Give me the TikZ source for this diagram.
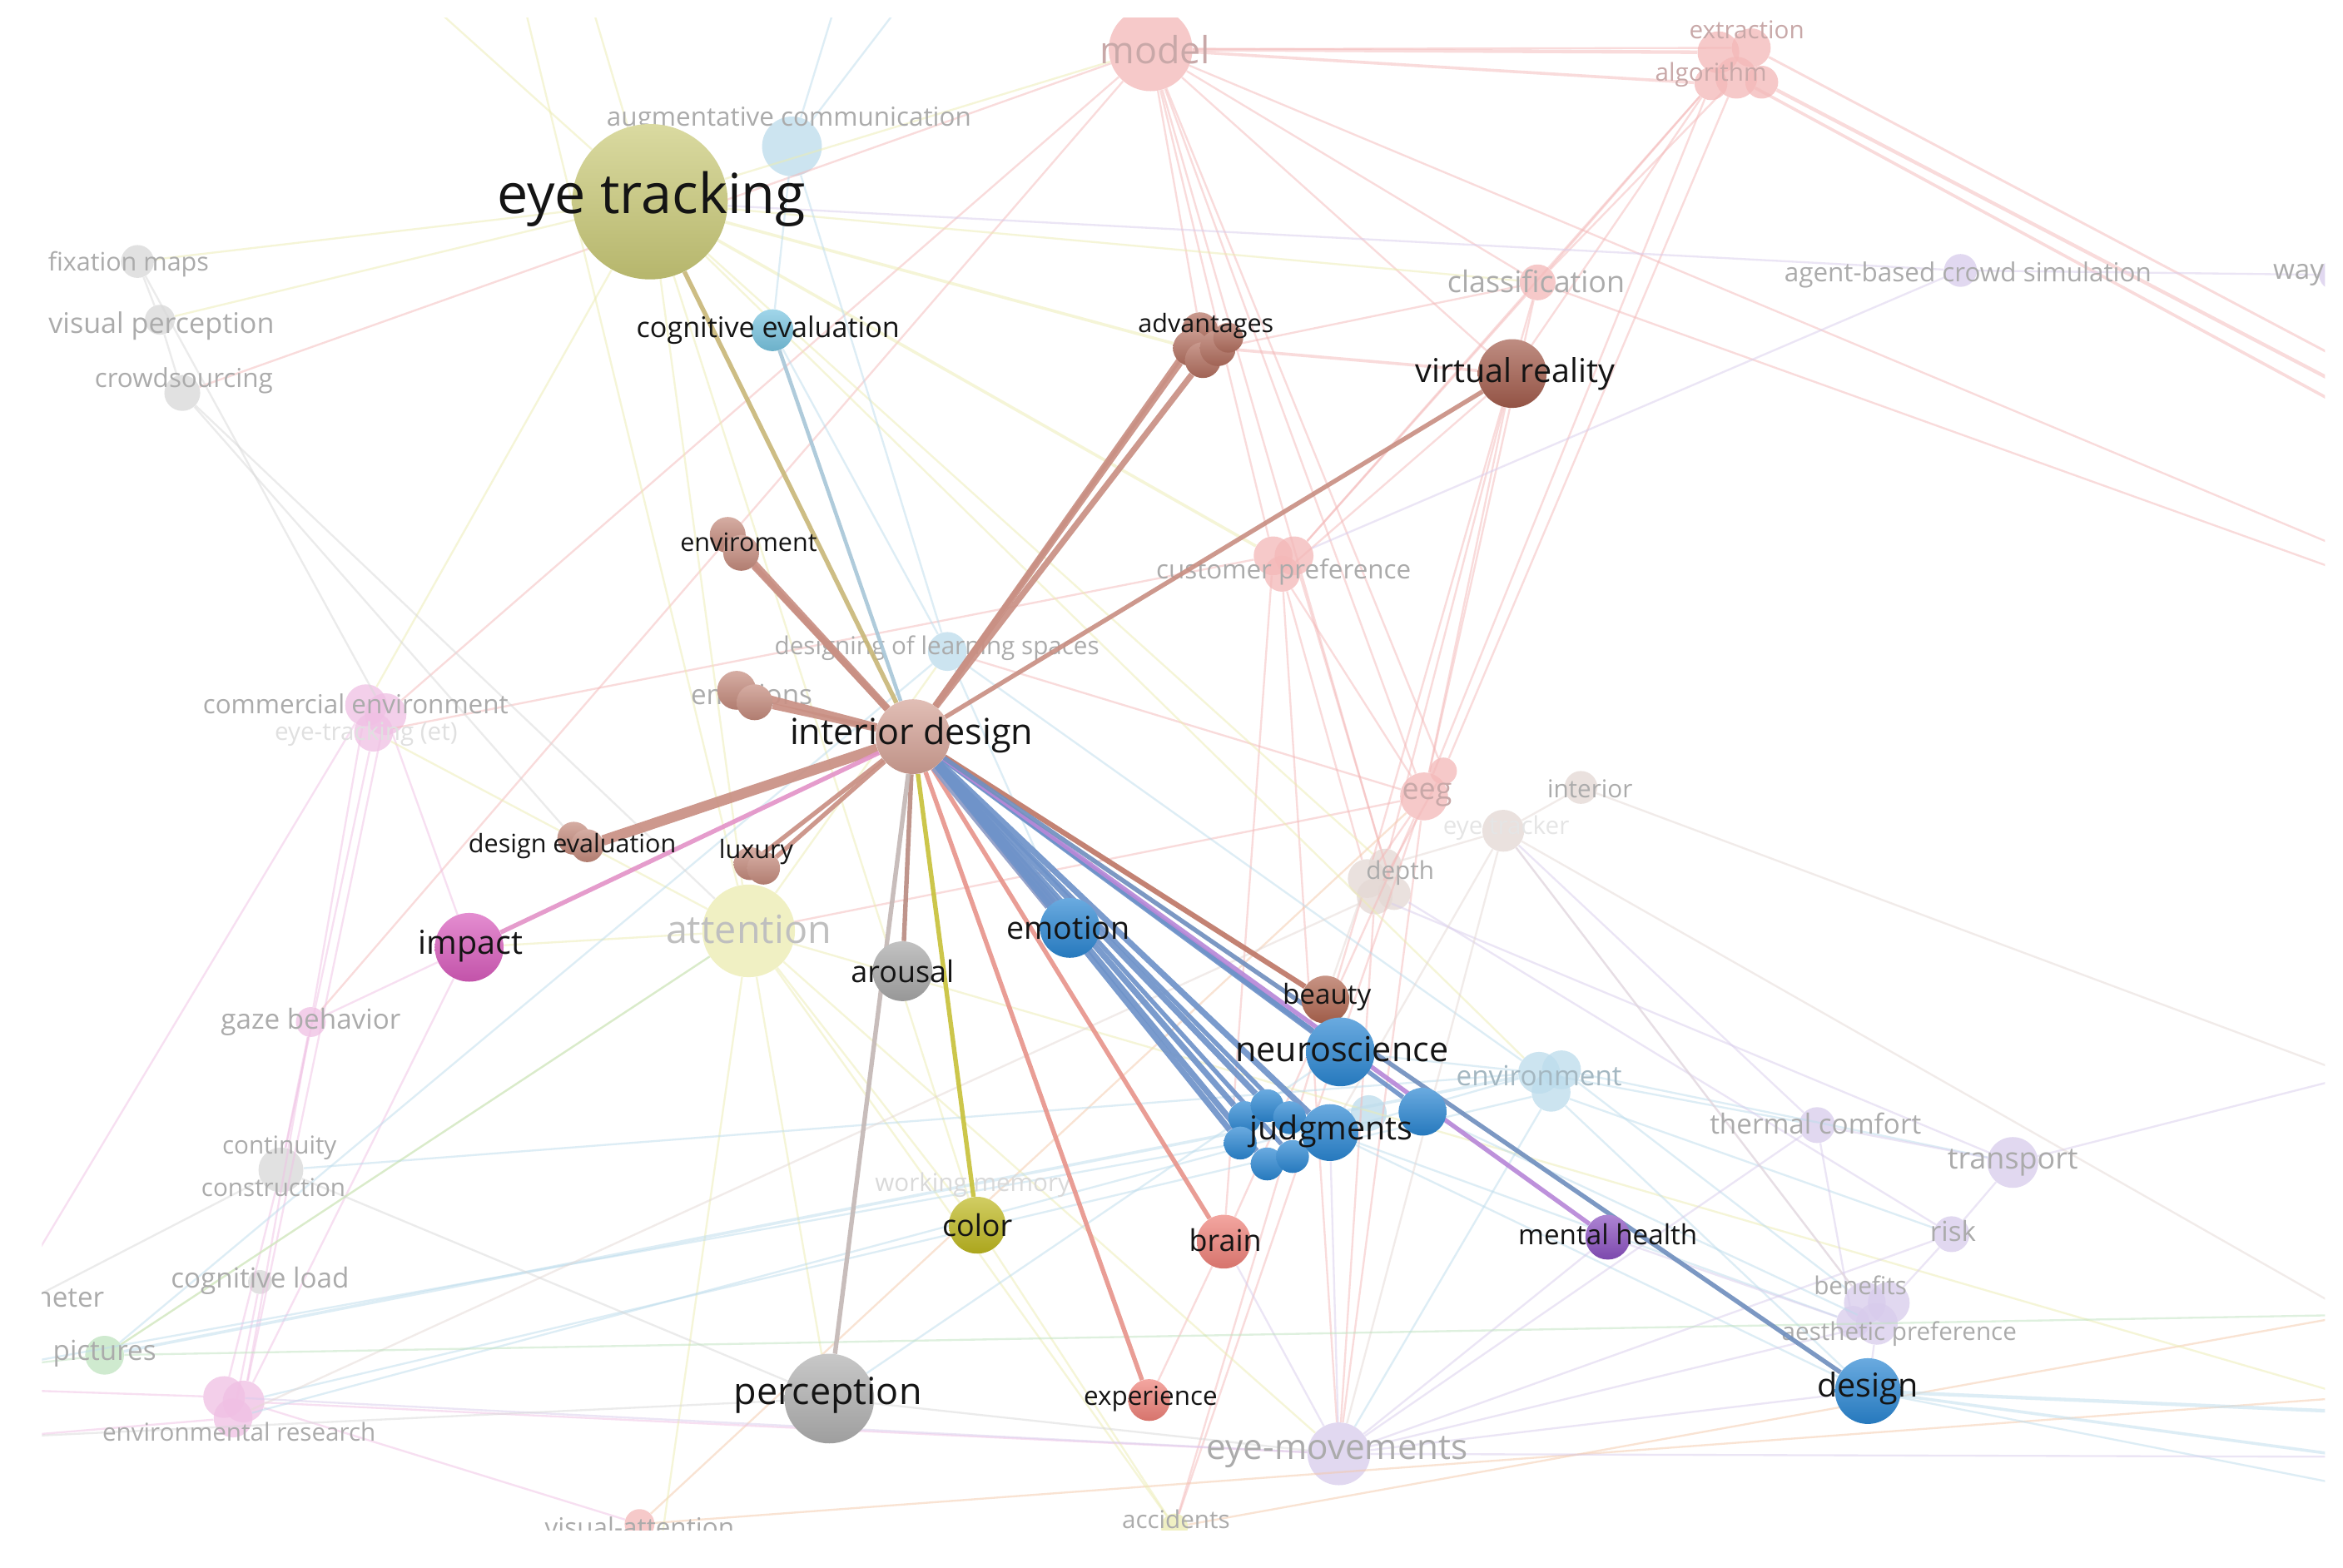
\documentclass[tikz,border=0pt]{standalone}
\usepackage{fontspec}
\setmainfont{Open Sans}
\newcommand\fsz[1]{\fontsize{#1}{#1}\selectfont}
\pgfdeclarelayer{bg}
\pgfdeclarelayer{sedge}
\pgfsetlayers{bg,sedge,main}
% strong node colours
\definecolor{cEye}{HTML}{CACA78}
\definecolor{cInt}{HTML}{D4A296}
\definecolor{cAdv}{HTML}{B26E5E}
\definecolor{cBrn}{HTML}{C48A7C}
\definecolor{cVR}{HTML}{A35C4C}
\definecolor{cBeau}{HTML}{B06650}
\definecolor{cBlue}{HTML}{2A86D2}
\definecolor{cMag}{HTML}{D85CBC}
\definecolor{cGry}{HTML}{A8A8A8}
\definecolor{cCol}{HTML}{BEB820}
\definecolor{cBrain}{HTML}{EE8078}
\definecolor{cPur}{HTML}{8A50C0}
\definecolor{cPerc}{HTML}{B0B0B0}
\definecolor{cCog}{HTML}{78C4E0}
% strong edge colours
\definecolor{eBrn}{HTML}{C99084}
\definecolor{eBrnD}{HTML}{BE7868}
\definecolor{eBlue}{HTML}{6F93C9}
\definecolor{eBand}{HTML}{8E9CC6}
\definecolor{eOl}{HTML}{C9B87A}
\definecolor{eLB}{HTML}{A9C7D8}
\definecolor{ePink}{HTML}{E394C8}
\definecolor{eGry}{HTML}{C4B8B6}
\definecolor{eYel}{HTML}{C8C23C}
\definecolor{eSal}{HTML}{E8958C}
\definecolor{ePur}{HTML}{B888D8}
% faint colours
\definecolor{fPink}{HTML}{F4B8B8}
\definecolor{fYel}{HTML}{ECECB0}
\definecolor{fBlue}{HTML}{BCDCEC}
\definecolor{fLav}{HTML}{D8CCEC}
\definecolor{fGray}{HTML}{D8D8D8}
\definecolor{fGreen}{HTML}{BFE3BF}
\definecolor{fMag}{HTML}{F0C0E4}
\definecolor{fOr}{HTML}{F4C8A8}
\definecolor{fDep}{HTML}{E4D8D4}
\definecolor{tFaint}{HTML}{ABABAB}
\definecolor{tPink}{HTML}{C8A8A8}
\tikzset{
  ball/.style={circle,inner sep=0pt,draw=none,top color=#1!70!white,bottom color=#1!90!black},
  fnode/.style={circle,inner sep=0pt,draw=none,fill=#1,fill opacity=0.75},
  se/.style={draw=#1,line width=3pt,draw opacity=0.92},
  fe/.style={draw=#1,line width=1.3pt,draw opacity=0.5},
  lbl/.style={inner sep=0pt,text=black!92},
  flbl/.style={inner sep=0pt,text=tFaint},
}
\begin{document}
\begin{tikzpicture}[x=1pt,y=-1pt]
\useasboundingbox (0,0) rectangle (1568,1049);
% ---------- strong nodes ----------
\node[ball=cEye,minimum size=104pt] (eyet) at (435,135) {};
\node[ball=cInt,minimum size=50pt] (intd) at (611,493) {};
\node[ball=cCog,minimum size=28pt] (cogev) at (517,221) {};
\node[ball=cAdv,minimum size=24pt] (adv1) at (803,221) {};
\node[ball=cAdv,minimum size=24pt] (adv2) at (797,233) {};
\node[ball=cAdv,minimum size=24pt] (adv3) at (805,241) {};
\node[ball=cAdv,minimum size=24pt] (adv4) at (815,233) {};
\node[ball=cAdv,minimum size=20pt] (adv5) at (822,226) {};
\node[ball=cVR,minimum size=46pt] (vr) at (1012,250) {};
\node[ball=cBrn,minimum size=24pt] (env1) at (487,358) {};
\node[ball=cBrn,minimum size=24pt] (env2) at (496,370) {};
\node[ball=cBrn,minimum size=26pt] (emo1) at (493,462) {};
\node[ball=cBrn,minimum size=24pt] (emo2) at (505,470) {};
\node[ball=cBrn,minimum size=22pt] (desev1) at (384,561) {};
\node[ball=cBrn,minimum size=22pt] (desev2) at (393,566) {};
\node[ball=cBrn,minimum size=22pt] (lux1) at (502,578) {};
\node[ball=cBrn,minimum size=22pt] (lux2) at (511,581) {};
\node[ball=cMag,minimum size=46pt] (impact) at (314,634) {};
\node[ball=cGry,minimum size=40pt] (arousal) at (604,650) {};
\node[ball=cBlue,minimum size=40pt] (emotion) at (716,621) {};
\node[ball=cBeau,minimum size=32pt] (beauty) at (887,669) {};
\node[ball=cBlue,minimum size=46pt] (neuro) at (897,704) {};
\node[ball=cBlue,minimum size=22pt] (j1) at (833,748) {};
\node[ball=cBlue,minimum size=22pt] (j2) at (848,740) {};
\node[ball=cBlue,minimum size=22pt] (j3) at (863,748) {};
\node[ball=cBlue,minimum size=22pt] (j4) at (830,765) {};
\node[ball=cBlue,minimum size=22pt] (j5) at (848,779) {};
\node[ball=cBlue,minimum size=22pt] (j6) at (865,774) {};
\node[ball=cBlue,minimum size=38pt] (judg) at (890,758) {};
\node[ball=cBlue,minimum size=32pt] (j7) at (952,744) {};
\node[ball=cCol,minimum size=38pt] (color) at (654,820) {};
\node[ball=cBrain,minimum size=36pt] (brain) at (819,831) {};
\node[ball=cPur,minimum size=30pt] (mental) at (1076,828) {};
\node[ball=cPerc,minimum size=60pt] (perc) at (555,936) {};
\node[ball=cBrain,minimum size=28pt] (exper) at (769,937) {};
\node[ball=cBlue,minimum size=44pt] (design) at (1250,931) {};
% ---------- strong labels ----------
\node[lbl,font=\fsz{37}] (Leyet) at (436,133) {eye tracking};
\node[lbl,font=\fsz{19}] (Lcogev) at (514,221) {cognitive evaluation};
\node[lbl,font=\fsz{17}] (Ladv) at (807,218) {advantages};
\node[lbl,font=\fsz{22}] (Lvr) at (1014,250) {virtual reality};
\node[lbl,font=\fsz{17}] (Lenvir) at (501,363) {enviroment};
\node[lbl,font=\fsz{24}] (Lintd) at (610,492) {interior design};
\node[lbl,font=\fsz{17}] (Ldesev) at (383,566) {design evaluation};
\node[lbl,font=\fsz{17}] (Llux) at (506,570) {luxury};
\node[lbl,font=\fsz{22}] (Limpact) at (315,633) {impact};
\node[lbl,font=\fsz{20}] (Larousal) at (604,650) {arousal};
\node[lbl,font=\fsz{21}] (Lemotion) at (715,621) {emotion};
\node[lbl,font=\fsz{18.5}] (Lbeauty) at (888,667) {beauty};
\node[lbl,font=\fsz{23}] (Lneuro) at (898,702) {neuroscience};
\node[lbl,font=\fsz{22}] (Ljudg) at (891,757) {judgments};
\node[lbl,font=\fsz{20}] (Lcolor) at (654,820) {color};
\node[lbl,font=\fsz{20}] (Lbrain) at (820,830) {brain};
\node[lbl,font=\fsz{18.5}] (Lmental) at (1076,826) {mental health};
\node[lbl,font=\fsz{25}] (Lperc) at (554,934) {perception};
\node[lbl,font=\fsz{17.5}] (Lexper) at (770,936) {experience};
\node[lbl,font=\fsz{22}] (Ldesign) at (1250,929) {design};
% ---------- strong edges ----------
\begin{pgfonlayer}{sedge}
\draw[se=eOl] (intd) -- (eyet);
\draw[se=eLB,line width=2.5pt] (intd) -- (cogev);
\draw[se=eBrn,line width=4pt] (intd) -- (adv2);
\draw[se=eBrn,line width=4pt] (intd) -- (adv3);
\draw[se=eBrn,line width=3.5pt] (intd) -- (adv1);
\draw[se=eBrn] (intd) -- (vr);
\draw[se=eBrn,line width=5pt] (intd) -- (env1);
\draw[se=eBrn,line width=4pt] (intd) -- (env2);
\draw[se=eBrn,line width=5pt] (intd) -- (emo1);
\draw[se=eBrn,line width=4pt] (intd) -- (emo2);
\draw[se=eBrn,line width=7pt] (intd) -- (desev2);
\draw[se=ePink] (intd) -- (impact);
\draw[se=eBrn] (intd) -- (lux1);
\draw[se=eBrn] (intd) -- (lux2);
\draw[se=eBrn!80!gray] (intd) -- (arousal);
\draw[se=eGry] (intd) -- (perc);
\draw[se=eYel] (intd) -- (color);
\draw[se=eSal] (intd) -- (brain);
\draw[se=eSal] (intd) -- (exper);
\draw[se=eBand,line width=9pt] (intd) -- (emotion);
\draw[se=eBlue,line width=4pt] (intd) -- (j1);
\draw[se=eBlue,line width=4pt] (intd) -- (j2);
\draw[se=eBlue,line width=3pt] (intd) -- (j3);
\draw[se=eBlue,line width=4pt] (intd) -- (j4);
\draw[se=eBlue,line width=4pt] (intd) -- (j5);
\draw[se=eBlue,line width=3pt] (intd) -- (j6);
\draw[se=eBlue,line width=4pt] (intd) -- (judg);
\draw[se=eBrnD,line width=3.5pt] (intd) -- (beauty);
\draw[se=eBlue,line width=4pt] (intd) -- (neuro);
\draw[se=eBlue,line width=3pt] (intd) -- (j7);
\draw[se=ePur] (intd) -- (mental);
\draw[se=eBlue!85!gray,line width=3pt] (intd) -- (design);
\end{pgfonlayer}
% ---------- faint layer ----------
\begin{pgfonlayer}{bg}
\fill[white] (0,0) rectangle (1568,1049);
\begin{scope}
\clip (28,12) rectangle (1556,1024);
\coordinate (topA) at (285,0);
\coordinate (topB) at (350,0);
\coordinate (topC) at (395,0);
\coordinate (topD) at (560,0);
\coordinate (topE) at (605,0);
\coordinate (rA) at (1575,245);
\coordinate (rB) at (1575,262);
\coordinate (rB2) at (1575,276);
\coordinate (rC) at (1575,370);
\coordinate (rC2) at (1575,385);
\coordinate (rD) at (1575,945);
\coordinate (rE) at (1575,975);
\coordinate (rF) at (1575,995);
\coordinate (rG) at (1575,935);
\coordinate (rH) at (1575,720);
\coordinate (rH2) at (1575,880);
\coordinate (lA) at (0,930);
\coordinate (lB) at (0,962);
\coordinate (lC) at (0,915);
\coordinate (lD) at (0,880);
\coordinate (bA) at (440,1050);
\coordinate (bB) at (760,1050);
% faint nodes
\node[fnode=fBlue,minimum size=40pt] (augm) at (530,98) {};
\node[fnode=fGray,minimum size=22pt] (fixm) at (92,175) {};
\node[fnode=fGray,minimum size=20pt] (visp) at (107,214) {};
\node[fnode=fGray,minimum size=24pt] (crowd) at (122,263) {};
\node[fnode=fPink,minimum size=56pt] (modelN) at (770,33) {};
\node[fnode=fPink,minimum size=28pt] (alg1) at (1150,35) {};
\node[fnode=fPink,minimum size=26pt] (alg2) at (1172,32) {};
\node[fnode=fPink,minimum size=28pt] (alg3) at (1162,52) {};
\node[fnode=fPink,minimum size=22pt] (alg4) at (1145,56) {};
\node[fnode=fPink,minimum size=22pt] (alg5) at (1179,55) {};
\node[fnode=fPink,minimum size=24pt] (classN) at (1029,189) {};
\node[fnode=fLav,minimum size=22pt] (agentN) at (1312,181) {};
\node[fnode=fLav,minimum size=20pt] (wayN) at (1562,184) {};
\node[fnode=fPink,minimum size=26pt] (cp1) at (852,372) {};
\node[fnode=fPink,minimum size=26pt] (cp2) at (866,372) {};
\node[fnode=fPink,minimum size=24pt] (cp3) at (858,384) {};
\node[fnode=fBlue,minimum size=26pt] (dls) at (634,436) {};
\node[fnode=fMag,minimum size=28pt] (cm1) at (245,472) {};
\node[fnode=fMag,minimum size=28pt] (cm2) at (258,478) {};
\node[fnode=fMag,minimum size=26pt] (cm3) at (250,490) {};
\node[fnode=fPink,minimum size=32pt] (eeg1) at (953,533) {};
\node[fnode=fPink,minimum size=18pt] (eeg2) at (966,516) {};
\node[fnode=fDep,minimum size=22pt] (intr) at (1058,527) {};
\node[fnode=fDep,minimum size=28pt] (eyetr) at (1006,556) {};
\node[fnode=fDep,minimum size=26pt] (dp1) at (915,588) {};
\node[fnode=fDep,minimum size=22pt] (dp2) at (927,579) {};
\node[fnode=fDep,minimum size=24pt] (dp3) at (920,600) {};
\node[fnode=fDep,minimum size=22pt] (dp4) at (933,598) {};
\node[fnode=fYel,minimum size=62pt] (attn) at (501,623) {};
\node[fnode=fMag,minimum size=20pt] (gazeN) at (208,684) {};
\node[fnode=fBlue,minimum size=28pt] (eb1) at (1030,718) {};
\node[fnode=fBlue,minimum size=26pt] (eb2) at (1045,716) {};
\node[fnode=fBlue,minimum size=26pt] (eb3) at (1038,731) {};
\node[fnode=fBlue,minimum size=24pt] (jfaint) at (916,745) {};
\node[fnode=fLav,minimum size=24pt] (therm) at (1216,753) {};
\node[fnode=fLav,minimum size=34pt] (trans) at (1347,778) {};
\node[fnode=fGray,minimum size=30pt] (cont) at (188,783) {};
\node[fnode=fLav,minimum size=24pt] (riskN) at (1306,826) {};
\node[fnode=fGray,minimum size=16pt] (cogl) at (174,858) {};
\node[fnode=fGreen,minimum size=26pt] (pict) at (70,907) {};
\node[fnode=fLav,minimum size=28pt] (bn1) at (1248,872) {};
\node[fnode=fLav,minimum size=28pt] (bn2) at (1264,872) {};
\node[fnode=fLav,minimum size=28pt] (bn3) at (1256,886) {};
\node[fnode=fLav,minimum size=22pt] (bn4) at (1240,885) {};
\node[fnode=fMag,minimum size=28pt] (er1) at (150,935) {};
\node[fnode=fMag,minimum size=28pt] (er2) at (163,938) {};
\node[fnode=fMag,minimum size=26pt] (er3) at (156,949) {};
\node[fnode=fLav,minimum size=42pt] (eyem) at (896,973) {};
\node[fnode=fPink,minimum size=20pt] (visa) at (428,1020) {};
\node[fnode=fYel,minimum size=18pt] (accN) at (786,1022) {};
% faint edges: pink
\draw[fe=fPink,line width=2.4pt] (modelN) -- (alg1);
\draw[fe=fPink,line width=2pt] (modelN) -- (alg4);
\draw[fe=fPink] (modelN) -- (alg2);
\draw[fe=fPink] (modelN) -- (classN);
\draw[fe=fPink] (modelN) -- (cp1);
\draw[fe=fPink] (modelN) -- (eeg1);
\draw[fe=fPink] (modelN) -- (eeg2);
\draw[fe=fPink] (modelN) -- (cm2);
\draw[fe=fPink] (modelN) -- (gazeN);
\draw[fe=fPink] (modelN) -- (rC);
\draw[fe=fPink] (modelN) -- (dp2);
\draw[fe=fPink] (modelN) -- (adv1);
\draw[fe=fPink] (modelN) -- (vr);
\draw[fe=fPink] (alg4) -- (classN);
\draw[fe=fPink] (alg3) -- (classN);
\draw[fe=fPink] (alg4) -- (cp2);
\draw[fe=fPink] (alg3) -- (eeg2);
\draw[fe=fPink] (alg4) -- (eeg1);
\draw[fe=fPink] (alg4) -- (vr);
\draw[fe=fPink,line width=2.4pt] (alg5) -- (rB);
\draw[fe=fPink,line width=2pt] (alg3) -- (rB2);
\draw[fe=fPink,line width=1.6pt] (alg2) -- (rA);
\draw[fe=fPink] (classN) -- (rC2);
\draw[fe=fPink] (classN) -- (eeg1);
\draw[fe=fPink] (classN) -- (cp2);
\draw[fe=fPink] (classN) -- (dp1);
\draw[fe=fPink] (classN) -- (adv4);
\draw[fe=fPink,line width=2pt] (adv4) -- (vr);
\draw[fe=fPink] (vr) -- (eeg1);
\draw[fe=fPink] (vr) -- (dp2);
\draw[fe=fPink] (vr) -- (cp3);
\draw[fe=fPink] (eeg1) -- (dp1);
\draw[fe=fPink] (eeg1) -- (eyem);
\draw[fe=fPink] (eeg1) -- (brain);
\draw[fe=fPink] (eeg2) -- (dp3);
\draw[fe=fPink] (cp3) -- (eeg1);
\draw[fe=fPink] (cp3) -- (dp1);
\draw[fe=fPink] (cp2) -- (dp4);
\draw[fe=fPink] (cp3) -- (eyem);
\draw[fe=fPink] (cp1) -- (brain);
\draw[fe=fPink] (cp1) -- (cm3);
\draw[fe=fPink] (eeg1) -- (dls);
\draw[fe=fPink] (eeg1) -- (attn);
\draw[fe=fPink] (modelN) -- (crowd);
\draw[fe=fPink] (dp3) -- (eyem);
\draw[fe=fPink] (dp1) -- (accN);
\draw[fe=fPink] (brain) -- (exper);
\draw[fe=fOr] (visa) -- (rG);
\draw[fe=fOr] (accN) -- (rH2);
\draw[fe=fOr] (visa) -- (eeg1);
\draw[fe=fPink] (accN) -- (eeg1);
\draw[fe=fMag] (cm1) -- (gazeN);
\draw[fe=fMag] (cm2) -- (er2);
\draw[fe=fMag] (gazeN) -- (cont);
\draw[fe=fMag] (cont) -- (er1);
\draw[fe=fMag] (cogl) -- (er3);
\draw[fe=fMag] (cm3) -- (cont);
\draw[fe=fMag] (gazeN) -- (er2);
\draw[fe=fMag] (er1) -- (lA);
\draw[fe=fMag] (er3) -- (lB);
\draw[fe=fMag] (er2) -- (visa);
\draw[fe=fMag] (er2) -- (eyem);
\draw[fe=fMag] (cm1) -- (lD);
\draw[fe=fMag] (impact) -- (cm2);
\draw[fe=fMag] (impact) -- (gazeN);
\draw[fe=fMag] (impact) -- (er2);
% yellow
\draw[fe=fYel] (topA) -- (eyet);
\draw[fe=fYel] (topB) -- (attn);
\draw[fe=fYel] (topC) -- (eyet);
\draw[fe=fYel] (eyet) -- (attn);
\draw[fe=fYel] (eyet) -- (fixm);
\draw[fe=fYel] (eyet) -- (visp);
\draw[fe=fYel] (eyet) -- (classN);
\draw[fe=fYel] (eyet) -- (modelN);
\draw[fe=fYel,line width=2pt] (eyet) -- (cp1);
\draw[fe=fYel,line width=2pt] (eyet) -- (adv2);
\draw[fe=fYel] (eyet) -- (dp2);
\draw[fe=fYel] (eyet) -- (eb1);
\draw[fe=fYel] (eyet) -- (cm1);
\draw[fe=fYel] (eyet) -- (color);
\draw[fe=fYel] (attn) -- (perc);
\draw[fe=fYel] (attn) -- (color);
\draw[fe=fYel] (attn) -- (accN);
\draw[fe=fYel] (attn) -- (pict);
\draw[fe=fYel] (attn) -- (eyem);
\draw[fe=fYel] (attn) -- (bA);
\draw[fe=fYel] (attn) -- (rG);
\draw[fe=fYel] (attn) -- (cm3);
\draw[fe=fYel] (attn) -- (dls);
\draw[fe=fYel] (attn) -- (impact);
\draw[fe=fYel] (color) -- (accN);
\draw[fe=fYel] (accN) -- (bB);
% light blue
\draw[fe=fBlue] (topD) -- (augm);
\draw[fe=fBlue] (topE) -- (augm);
\draw[fe=fBlue] (augm) -- (cogev);
\draw[fe=fBlue] (augm) -- (dls);
\draw[fe=fBlue] (cogev) -- (dls);
\draw[fe=fBlue] (dls) -- (eb1);
\draw[fe=fBlue] (dls) -- (emotion);
\draw[fe=fBlue] (eb1) -- (therm);
\draw[fe=fBlue] (eb1) -- (judg);
\draw[fe=fBlue] (eb1) -- (neuro);
\draw[fe=fBlue] (eb3) -- (riskN);
\draw[fe=fBlue] (eb2) -- (trans);
\draw[fe=fBlue,line width=2pt] (eb1) -- (pict);
\draw[fe=fBlue] (eb3) -- (er2);
\draw[fe=fBlue] (eb1) -- (cont);
\draw[fe=fBlue] (eb3) -- (eyem);
\draw[fe=fBlue] (eb2) -- (bn1);
\draw[fe=fBlue] (eb3) -- (design);
\draw[fe=fBlue,line width=2.4pt] (design) -- (rD);
\draw[fe=fBlue,line width=2pt] (design) -- (rE);
\draw[fe=fBlue] (design) -- (rF);
\draw[fe=fBlue] (judg) -- (design);
\draw[fe=fBlue] (j7) -- (bn3);
\draw[fe=fBlue] (judg) -- (bn4);
\draw[fe=fBlue] (jfaint) -- (er3);
\draw[fe=fBlue] (j4) -- (lC);
\draw[fe=fBlue] (dls) -- (pict);
\draw[fe=fBlue] (neuro) -- (perc);
% lavender
\draw[fe=fLav] (eyem) -- (bn3);
\draw[fe=fLav] (eyem) -- (design);
\draw[fe=fLav] (eyem) -- (riskN);
\draw[fe=fLav] (eyem) -- (therm);
\draw[fe=fLav] (eyem) -- (er1);
\draw[fe=fLav] (eyem) -- (rE);
\draw[fe=fLav] (eyem) -- (judg);
\draw[fe=fLav] (eyem) -- (mental);
\draw[fe=fLav] (eyem) -- (brain);
\draw[fe=fLav] (therm) -- (trans);
\draw[fe=fLav] (trans) -- (riskN);
\draw[fe=fLav] (riskN) -- (bn2);
\draw[fe=fLav] (therm) -- (bn4);
\draw[fe=fLav] (trans) -- (rH);
\draw[fe=fLav] (agentN) -- (wayN);
\draw[fe=fLav] (agentN) -- (eyet);
\draw[fe=fLav] (agentN) -- (cp2);
\draw[fe=fLav] (riskN) -- (dp4);
\draw[fe=fLav] (bn1) -- (eyetr);
\draw[fe=fLav] (therm) -- (eyetr);
\draw[fe=fLav] (trans) -- (dp3);
\draw[fe=fLav] (mental) -- (bn4);
\draw[fe=fLav] (bn3) -- (design);
% gray
\draw[fe=fGray] (fixm) -- (visp);
\draw[fe=fGray] (visp) -- (crowd);
\draw[fe=fGray] (crowd) -- (attn);
\draw[fe=fGray] (crowd) -- (desev1);
\draw[fe=fGray] (fixm) -- (cm2);
\draw[fe=fDep] (eyetr) -- (intr);
\draw[fe=fDep] (eyetr) -- (dp2);
\draw[fe=fDep] (eyetr) -- (bn1);
\draw[fe=fDep] (eyetr) -- (rH2);
\draw[fe=fDep] (eyetr) -- (eyem);
\draw[fe=fDep] (eyetr) -- (judg);
\draw[fe=fDep] (dp3) -- (er3);
\draw[fe=fDep] (intr) -- (rH);
\draw[fe=fDep] (dp1) -- (beauty);
\draw[fe=fGray] (cont) -- (lD);
\draw[fe=fGray] (cont) -- (perc);
\draw[fe=fGray] (perc) -- (eyem);
\draw[fe=fGray] (perc) -- (lB);
% green
\draw[fe=fGreen] (pict) -- (lC);
\draw[fe=fGreen] (pict) -- (rH2);
\draw[fe=fGreen] (pict) -- (attn);
% faint labels
\node[flbl,text=tPink,font=\fsz{25}] (Lmodel) at (773,33) {model};
\node[flbl,text=tPink,font=\fsz{16.5}] (Lextr) at (1169,20) {extraction};
\node[flbl,text=tPink,font=\fsz{16.5}] (Lalg) at (1145,50) {algorithm};
\node[flbl,font=\fsz{17.5}] (Laug) at (528,80) {augmentative communication};
\node[flbl,font=\fsz{17}] (Lfix) at (86,177) {fixation maps};
\node[flbl,font=\fsz{19}] (Lvisp) at (108,218) {visual perception};
\node[flbl,font=\fsz{17.5}] (Lcrowd) at (123,255) {crowdsourcing};
\node[flbl,font=\fsz{20}] (Lclass) at (1028,188) {classification};
\node[flbl,font=\fsz{17.5}] (Lagent) at (1317,184) {agent-based crowd simulation};
\node[flbl,font=\fsz{18.5},anchor=west] (Lway) at (1521,184) {way};
\node[flbl,font=\fsz{17.5}] (Lcust) at (859,383) {customer preference};
\node[flbl,font=\fsz{16.5}] (Ldls) at (627,434) {designing of learning spaces};
\node[flbl,font=\fsz{18.5}] (Lemos) at (503,465) {emotions};
\node[flbl,font=\fsz{17.5}] (Lcomm) at (238,471) {commercial environment};
\node[flbl,text=black!12,font=\fsz{16.5}] (Let) at (245,491) {eye-tracking (et)};
\node[flbl,text=tPink,font=\fsz{20}] (Leeg) at (955,532) {eeg};
\node[flbl,font=\fsz{16.5}] (Lintr) at (1064,528) {interior};
\node[flbl,text=black!10,font=\fsz{16.5}] (Leyetr) at (1008,554) {eye tracker};
\node[flbl,font=\fsz{16.5}] (Ldepth) at (937,584) {depth};
\node[flbl,text=black!25,font=\fsz{26}] (Lattn) at (501,622) {attention};
\node[flbl,font=\fsz{18.5}] (Lgaze) at (208,684) {gaze behavior};
\node[flbl,text=fBlue!60!gray,font=\fsz{18.5}] (Lenv) at (1030,720) {environment};
\node[flbl,font=\fsz{18.5}] (Ltherm) at (1215,752) {thermal comfort};
\node[flbl,font=\fsz{20}] (Ltrans) at (1347,778) {transport};
\node[flbl,font=\fsz{16.5}] (Lcont) at (187,768) {continuity};
\node[flbl,font=\fsz{16.5}] (Lcons) at (183,795) {construction};
\node[flbl,text=black!15,font=\fsz{16.5}] (Lwm) at (651,793) {working memory};
\node[flbl,font=\fsz{18.5}] (Lrisk) at (1307,824) {risk};
\node[flbl,font=\fsz{18.5}] (Lcogl) at (174,857) {cognitive load};
\node[flbl,font=\fsz{18.5},anchor=east] (Ldiam) at (70,868) {diameter};
\node[flbl,font=\fsz{18.5}] (Lpict) at (70,906) {pictures};
\node[flbl,font=\fsz{16.5}] (Lben) at (1245,860) {benefits};
\node[flbl,font=\fsz{16.5}] (Laes) at (1271,893) {aesthetic preference};
\node[flbl,font=\fsz{16.5}] (Lenvr) at (160,958) {environmental research};
\node[flbl,font=\fsz{23.5}] (Leyem) at (895,972) {eye-movements};
\node[flbl,font=\fsz{17.5}] (Lvisa) at (428,1022) {visual-attention};
\node[flbl,font=\fsz{16.5}] (Lacc) at (787,1017) {accidents};
\end{scope}
\end{pgfonlayer}
\end{tikzpicture}
\end{document}
